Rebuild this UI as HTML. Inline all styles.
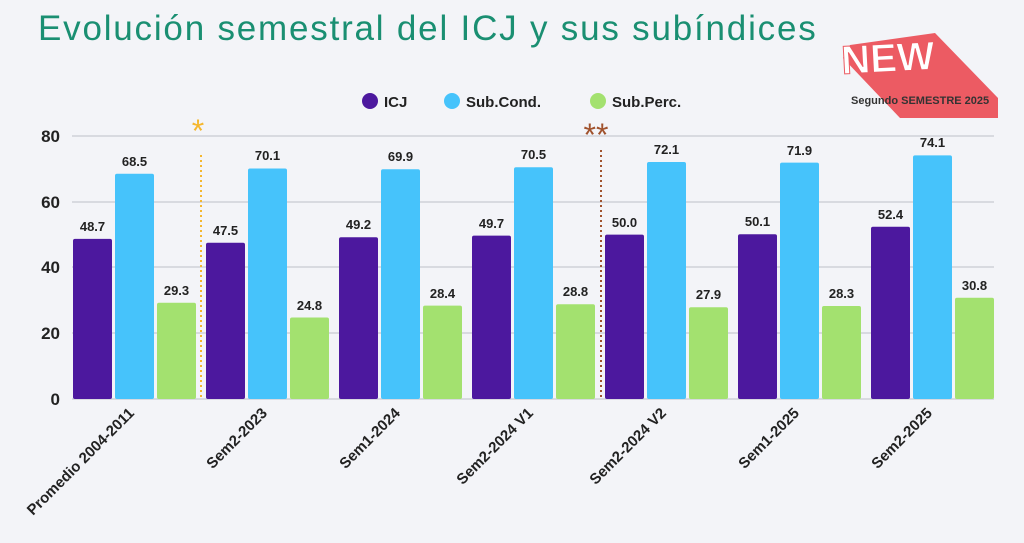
<!DOCTYPE html>
<html><head><meta charset="utf-8"><style>
body{margin:0;background:#f3f4f8;}
svg{display:block;font-family:"Liberation Sans",sans-serif;}
</style></head><body>
<svg width="1024" height="543" viewBox="0 0 1024 543">
<rect width="1024" height="543" fill="#f3f4f8"/>
<text x="38" y="40" font-size="35" fill="#1a8f72" letter-spacing="1.8">Evolución semestral del ICJ y sus subíndices</text>
<polygon points="843,58 850,45 935,33 998,98 998,118 900,118" fill="#ec5b63"/>
<text x="842" y="74" font-size="40" font-weight="bold" fill="#fff" stroke="#ec5b63" stroke-width="1" transform="rotate(-3 842 74)">NEW</text>
<text x="851" y="104" font-size="11" font-weight="bold" fill="#333">Segundo SEMESTRE 2025</text>
<circle cx="370" cy="101" r="8" fill="#4c189e"/><text x="384" y="107" font-size="15" font-weight="bold" fill="#222">ICJ</text>
<circle cx="452" cy="101" r="8" fill="#46c3fb"/><text x="466" y="107" font-size="15" font-weight="bold" fill="#222">Sub.Cond.</text>
<circle cx="598" cy="101" r="8" fill="#a3e16f"/><text x="612" y="107" font-size="15" font-weight="bold" fill="#222">Sub.Perc.</text>
<g stroke="#cfd2d8" stroke-width="1.5">
<line x1="72" y1="136" x2="994" y2="136"/><line x1="72" y1="202" x2="994" y2="202"/><line x1="72" y1="267" x2="994" y2="267"/><line x1="72" y1="333" x2="994" y2="333"/><line x1="72" y1="399" x2="994" y2="399"/>
</g>
<g font-size="17" font-weight="bold" fill="#222" text-anchor="end">
<text x="60" y="142">80</text><text x="60" y="208">60</text><text x="60" y="273">40</text><text x="60" y="339">20</text><text x="60" y="405">0</text>
</g>
<g>
<rect x="73" y="238.9" width="39" height="160.1" rx="2" fill="#4c189e"/>
<rect x="115" y="173.8" width="39" height="225.2" rx="2" fill="#46c3fb"/>
<rect x="157" y="302.7" width="39" height="96.3" rx="2" fill="#a3e16f"/>
<rect x="206" y="242.8" width="39" height="156.2" rx="2" fill="#4c189e"/>
<rect x="248" y="168.5" width="39" height="230.5" rx="2" fill="#46c3fb"/>
<rect x="290" y="317.5" width="39" height="81.5" rx="2" fill="#a3e16f"/>
<rect x="339" y="237.3" width="39" height="161.7" rx="2" fill="#4c189e"/>
<rect x="381" y="169.2" width="39" height="229.8" rx="2" fill="#46c3fb"/>
<rect x="423" y="305.6" width="39" height="93.4" rx="2" fill="#a3e16f"/>
<rect x="472" y="235.6" width="39" height="163.4" rx="2" fill="#4c189e"/>
<rect x="514" y="167.2" width="39" height="231.8" rx="2" fill="#46c3fb"/>
<rect x="556" y="304.3" width="39" height="94.7" rx="2" fill="#a3e16f"/>
<rect x="605" y="234.6" width="39" height="164.4" rx="2" fill="#4c189e"/>
<rect x="647" y="162.0" width="39" height="237" rx="2" fill="#46c3fb"/>
<rect x="689" y="307.3" width="39" height="91.7" rx="2" fill="#a3e16f"/>
<rect x="738" y="234.3" width="39" height="164.7" rx="2" fill="#4c189e"/>
<rect x="780" y="162.6" width="39" height="236.4" rx="2" fill="#46c3fb"/>
<rect x="822" y="306.0" width="39" height="93" rx="2" fill="#a3e16f"/>
<rect x="871" y="226.7" width="39" height="172.3" rx="2" fill="#4c189e"/>
<rect x="913" y="155.4" width="39" height="243.6" rx="2" fill="#46c3fb"/>
<rect x="955" y="297.7" width="39" height="101.3" rx="2" fill="#a3e16f"/>
</g>
<g font-size="13" font-weight="bold" fill="#222" text-anchor="middle">
<text x="92.5" y="231">48.7</text><text x="134.5" y="166">68.5</text><text x="176.5" y="295">29.3</text>
<text x="225.5" y="235">47.5</text><text x="267.5" y="160">70.1</text><text x="309.5" y="310">24.8</text>
<text x="358.5" y="229">49.2</text><text x="400.5" y="161">69.9</text><text x="442.5" y="298">28.4</text>
<text x="491.5" y="228">49.7</text><text x="533.5" y="159">70.5</text><text x="575.5" y="296">28.8</text>
<text x="624.5" y="227">50.0</text><text x="666.5" y="154">72.1</text><text x="708.5" y="299">27.9</text>
<text x="757.5" y="226">50.1</text><text x="799.5" y="155">71.9</text><text x="841.5" y="298">28.3</text>
<text x="890.5" y="219">52.4</text><text x="932.5" y="147">74.1</text><text x="974.5" y="290">30.8</text>
</g>
<g font-size="15" font-weight="bold" fill="#222" text-anchor="end">
<text transform="translate(135,414) rotate(-45)">Promedio 2004-2011</text>
<text transform="translate(268,414) rotate(-45)">Sem2-2023</text>
<text transform="translate(401,414) rotate(-45)">Sem1-2024</text>
<text transform="translate(534,414) rotate(-45)">Sem2-2024 V1</text>
<text transform="translate(667,414) rotate(-45)">Sem2-2024 V2</text>
<text transform="translate(800,414) rotate(-45)">Sem1-2025</text>
<text transform="translate(933,414) rotate(-45)">Sem2-2025</text>
</g>
<line x1="201" y1="155" x2="201" y2="399" stroke="#f5b72e" stroke-width="2" stroke-dasharray="2,3"/>
<text x="198" y="142" font-size="32" fill="#f5b72e" text-anchor="middle">*</text>
<line x1="601" y1="150" x2="601" y2="399" stroke="#a0522d" stroke-width="2" stroke-dasharray="2,3"/>
<text x="596" y="146" font-size="32" fill="#a0522d" text-anchor="middle">**</text>
</svg>
</body></html>
